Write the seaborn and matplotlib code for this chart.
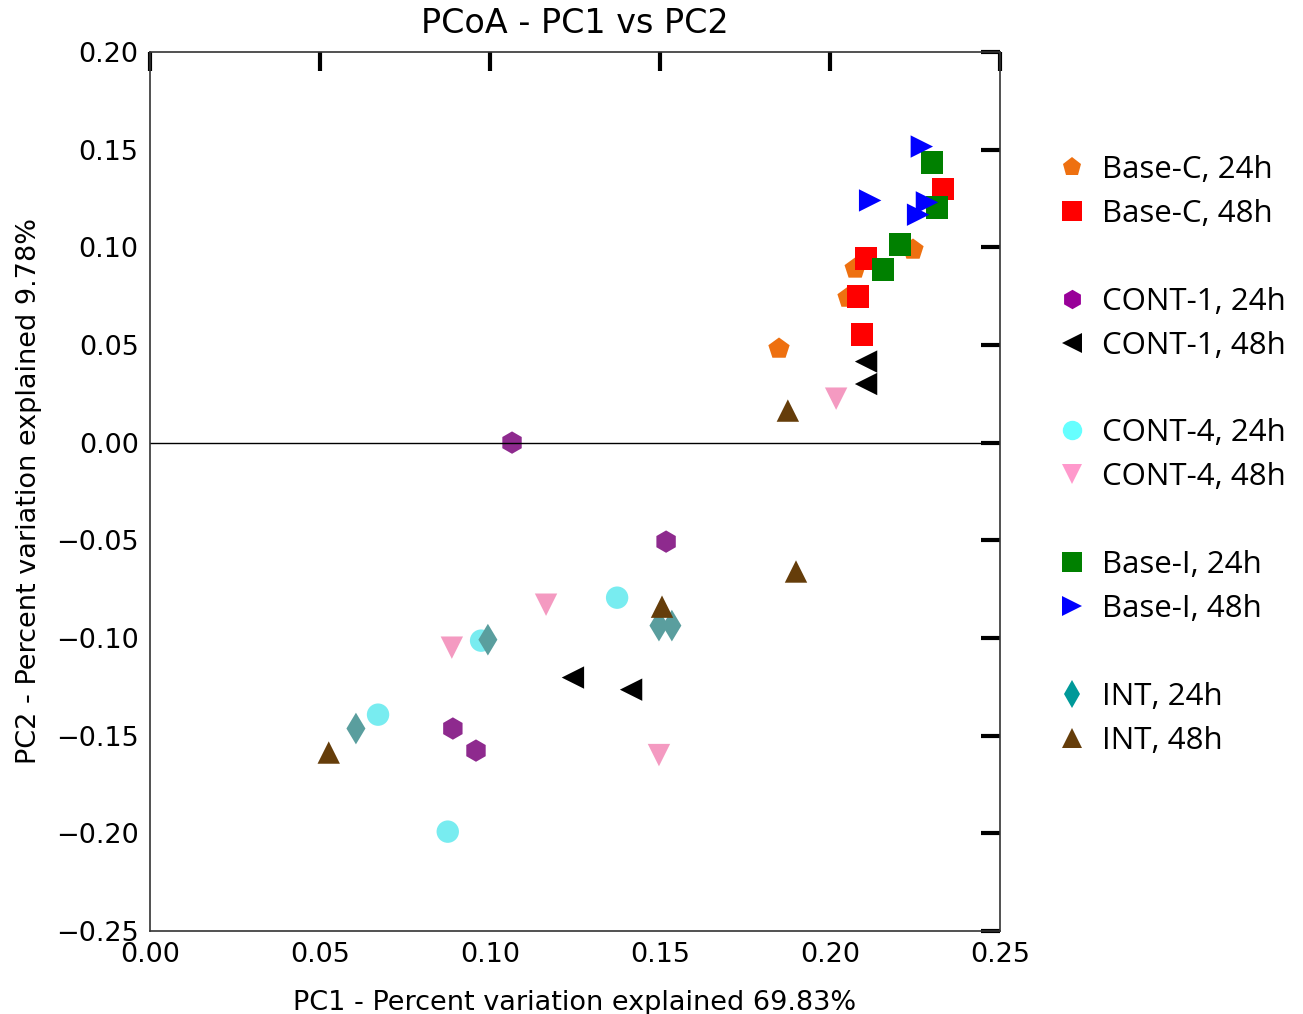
import pandas as pd
import matplotlib
matplotlib.use('Agg')
import matplotlib.pyplot as plt
import seaborn as sns
from matplotlib.lines import Line2D

# Grupos y coordenadas PCoA
grupos = ['Base-C, 24h', 'Base-C, 48h', 'CONT-1, 24h', 'CONT-1, 48h',
          'CONT-4, 24h', 'CONT-4, 48h', 'Base-I, 24h', 'Base-I, 48h',
          'INT, 24h', 'INT, 48h']

base_c_24_x = [0.2244, 0.2074, 0.2053, 0.1850]
base_c_24_y = [0.0988, 0.0891, 0.0742, 0.0481]
base_c_48_x = [0.2332, 0.2106, 0.2082, 0.2094]
base_c_48_y = [0.1300, 0.0942, 0.0748, 0.0553]
cont1_24_x = [0.1065, 0.1518, 0.0891, 0.0959]
cont1_24_y = [0.0000, -0.0507, -0.1464, -0.1577]
cont1_48_x = [0.2106, 0.2106, 0.1244, 0.1415]
cont1_48_y = [0.0415, 0.0300, -0.1203, -0.1265]
cont4_24_x = [0.1374, 0.0974, 0.0671, 0.0876]
cont4_24_y = [-0.0794, -0.1014, -0.1393, -0.1992]
cont4_48_x = [0.2018, 0.1165, 0.0888, 0.1497]
cont4_48_y = [0.0225, -0.0830, -0.1050, -0.1600]
base_i_24_x = [0.2300, 0.2315, 0.2206, 0.2156]
base_i_24_y = [0.1434, 0.1203, 0.1014, 0.0886]
base_i_48_x = [0.2270, 0.2118, 0.2259, 0.2285]
base_i_48_y = [0.1516, 0.1240, 0.1167, 0.1230]
int_24_x = [0.0994, 0.1497, 0.1535, 0.0606]
int_24_y = [-0.1009, -0.0937, -0.0937, -0.1464]
int_48_x = [0.1876, 0.1900, 0.1506, 0.0526]
int_48_y = [0.0164, -0.0660, -0.0840, -0.1587]

xs = [base_c_24_x, base_c_48_x, cont1_24_x, cont1_48_x, cont4_24_x,
      cont4_48_x, base_i_24_x, base_i_48_x, int_24_x, int_48_x]
ys = [base_c_24_y, base_c_48_y, cont1_24_y, cont1_48_y, cont4_24_y,
      cont4_48_y, base_i_24_y, base_i_48_y, int_24_y, int_48_y]

filas = []
for g, xv, yv in zip(grupos, xs, ys):
    for a, b in zip(xv, yv):
        filas.append({'PC1': a, 'PC2': b, 'Grupo': g})
data = pd.DataFrame(filas)

colores = {
    'Base-C, 24h': '#ee7010', 'Base-C, 48h': '#ff0000',
    'CONT-1, 24h': '#8e2a8e', 'CONT-1, 48h': '#000000',
    'CONT-4, 24h': '#78ecf0', 'CONT-4, 48h': '#f49ac1',
    'Base-I, 24h': '#008000', 'Base-I, 48h': '#0000ff',
    'INT, 24h': '#5a9e9e', 'INT, 48h': '#653d0a',
}
colores_leyenda = dict(colores)
colores_leyenda.update({'CONT-1, 24h': '#990099', 'CONT-4, 24h': '#66ffff',
                        'CONT-4, 48h': '#ff99cc', 'INT, 24h': '#009999'})
marcadores = {
    'Base-C, 24h': 'p', 'Base-C, 48h': 's', 'CONT-1, 24h': 'h',
    'CONT-1, 48h': '<', 'CONT-4, 24h': 'o', 'CONT-4, 48h': 'v',
    'Base-I, 24h': 's', 'Base-I, 48h': '>', 'INT, 24h': 'd', 'INT, 48h': '^',
}

sns.set_style('white')
plt.rcParams['font.family'] = ['DejaVu Sans']
plt.rcParams['text.color'] = 'black'
plt.rcParams['axes.labelcolor'] = 'black'
plt.rcParams['xtick.color'] = 'black'
plt.rcParams['ytick.color'] = 'black'

fig = plt.figure(figsize=(13.03, 10.14), dpi=100)
ax = fig.add_axes([0.115, 0.082, 0.6525, 0.8667])

sns.scatterplot(data=data, x='PC1', y='PC2', hue='Grupo', style='Grupo',
                palette=colores, markers=marcadores, s=260, linewidth=0,
                legend=False, ax=ax)

ax.axhline(0, color='black', linewidth=1)
ax.set_xlim(0, 0.25)
ax.set_ylim(-0.25, 0.20)
ax.set_xticks([0.00, 0.05, 0.10, 0.15, 0.20, 0.25])
ax.set_yticks([-0.25, -0.20, -0.15, -0.10, -0.05, 0.00, 0.05, 0.10, 0.15, 0.20])
ax.set_yticklabels(['\u22120.25', '\u22120.20', '\u22120.15', '\u22120.10',
                    '\u22120.05', '0.00', '0.05', '0.10', '0.15', '0.20'])
ax.tick_params(direction='in', length=14, width=3, labelsize=19.5, pad=8,
               top=True, right=True, color='black')
for sp in ax.spines.values():
    sp.set_color('#333333')
    sp.set_linewidth(1.2)

ax.set_title('PCoA - PC1 vs PC2', fontsize=24, pad=14)
ax.set_xlabel('PC1 - Percent variation explained 69.83%', fontsize=19.5, labelpad=16)
ax.set_ylabel('PC2 - Percent variation explained 9.78%', fontsize=19.5, labelpad=10)

# Leyenda con espacios entre pares
handles, labels = [], []
for i, g in enumerate(grupos):
    if i > 0 and i % 2 == 0:
        handles.append(Line2D([], [], linestyle='none'))
        labels.append('')
    handles.append(Line2D([], [], linestyle='none', marker=marcadores[g],
                          markersize=14, markerfacecolor=colores_leyenda[g],
                          markeredgewidth=0))
    labels.append(g)
leg = fig.legend(handles, labels, loc='upper left', bbox_to_anchor=(0.787, 0.875),
                 frameon=False, handletextpad=0.35, handlelength=1.2,
                 labelspacing=0.445, prop={'family': 'Open Sans', 'size': 22.5})

plt.savefig('out.png', dpi=100)
